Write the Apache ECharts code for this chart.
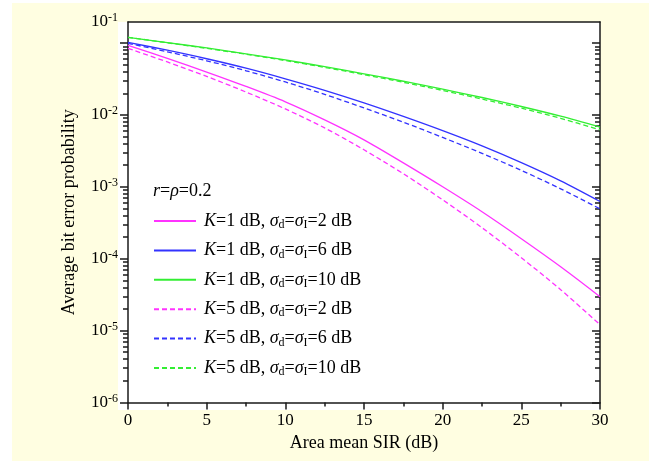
<!DOCTYPE html>
<html><head><meta charset="utf-8">
<script src="https://cdn.jsdelivr.net/npm/echarts@6/dist/echarts.min.js"></script>
<style>html,body{margin:0;padding:0;background:#fff}#c{width:649px;height:461px}</style>
</head><body><div id="c"></div>
<script>
// ---- data ----
const sir = [0, 2.5, 5, 7.5, 10, 12.5, 15, 17.5, 20, 22.5, 25, 27.5, 30];
const k1s2  = [0.0929, 0.0610, 0.0395, 0.0249, 0.0152, 0.00853, 0.00450, 0.00215, 0.00100, 0.000450, 0.000190, 0.0000774, 0.0000296];
const k1s6  = [0.1023, 0.0794, 0.0604, 0.0447, 0.0318, 0.0220, 0.0147, 0.00953, 0.00604, 0.00371, 0.00217, 0.00121, 0.000625];
const k1s10 = [0.1200, 0.1014, 0.0853, 0.0708, 0.0581, 0.0469, 0.0373, 0.0294, 0.0228, 0.01746, 0.01309, 0.00959, 0.00675];
const k5s2  = [0.0843, 0.0545, 0.0343, 0.0208, 0.0121, 0.00659, 0.00327, 0.00152, 0.000659, 0.000270, 0.000103, 0.0000371, 0.0000121];
const k5s6  = [0.0991, 0.0755, 0.0566, 0.0411, 0.0287, 0.0193, 0.0125, 0.00793, 0.00486, 0.00292, 0.00169, 0.000938, 0.000494];
const k5s10 = [0.1200, 0.1007, 0.0843, 0.0697, 0.0570, 0.0458, 0.0363, 0.0284, 0.0219, 0.0166, 0.0124, 0.00897, 0.00619];
const kVals = ['1', '1', '1', '5', '5', '5'];
const sigVals = ['2', '6', '10', '2', '6', '10'];
const yMajorTicks = [1e-6, 1e-5, 1e-4, 1e-3, 1e-2, 1e-1];
const yLabelExps = ['-6', '-5', '-4', '-3', '-2', '-1'];
const yMin = 1e-6, yMax = 0.196;

const seriesVals = [k1s2, k1s6, k1s10, k5s2, k5s6, k5s10];
const names = kVals.map((k, i) => 'K=' + k + ' dB, σd=σI=' + sigVals[i] + ' dB');
const colors = ['#ff33ff', '#3333ff', '#33ee33', '#ff33ff', '#3333ff', '#33ee33'];

const yMinorTicks = [];
for (let e = -6; e <= -1; e++) for (let m = 2; m <= 9; m++) {
  const v = m * Math.pow(10, e);
  if (v <= yMax) yMinorTicks.push(v);
}
const yLabelValues = yMajorTicks.slice(0, 5).concat([yMax]);

const FONT = 'Liberation Serif';
const AX = '#1a1a1a';
const axLine = { color: AX, width: 1.5 };

function yFormatter(v) {
  let best = 0, bd = 1e9;
  yLabelValues.forEach((t, i) => { const d = Math.abs(Math.log10(t) - Math.log10(v)); if (d < bd) { bd = d; best = i; } });
  return '10{sup|' + yLabelExps[best] + '}';
}

const yBase = { type: 'log', logBase: 10, min: yMin, max: yMax, splitLine: { show: false }, minorSplitLine: { show: false }, minorTick: { show: false } };

const chart = echarts.init(document.getElementById('c'), null, { renderer: 'canvas' });
const option = {
  backgroundColor: '#ffffff',
  animation: false,
  graphic: [
    { type: 'rect', z: -100, silent: true, shape: { x: 12, y: 3, width: 637, height: 458 }, style: { fill: '#FFFEE1' } },
    { type: 'rect', z: -99, silent: true, shape: { x: 118, y: 22, width: 482, height: 388 }, style: { fill: '#ffffff' } }
  ],
  grid: { left: 128, right: 49, top: 22, bottom: 58.5, containLabel: false },
  title: {
    text: '{i|r}={i|ρ}=0.2', left: 148, top: 177,
    textStyle: { fontFamily: FONT, fontSize: 18, fontWeight: 'normal', color: '#000',
      rich: { i: { fontFamily: FONT, fontSize: 18, fontStyle: 'italic', color: '#000' } } }
  },
  legend: {
    orient: 'vertical', left: 148, top: 206, itemWidth: 42, itemHeight: 14, itemGap: 9.4,
    data: names,
    itemStyle: { opacity: 0, borderWidth: 0 },
    formatter: function (name) {
      const i = names.indexOf(name);
      return '{i|K}=' + kVals[i] + ' dB, {i|σ}{sub|d}={i|σ}{sub|I}=' + sigVals[i] + ' dB';
    },
    textStyle: {
      fontFamily: FONT, fontSize: 18, color: '#000', lineHeight: 20, padding: [0, 0, 0, 3],
      rich: {
        i: { fontFamily: FONT, fontSize: 18, fontStyle: 'italic', color: '#000', lineHeight: 20 },
        sub: { fontFamily: FONT, fontSize: 12, color: '#000', lineHeight: 12, verticalAlign: 'bottom' }
      }
    }
  },
  xAxis: [{
    type: 'value', position: 'bottom', min: 0, max: 30, interval: 5,
    axisLine: { show: true, onZero: false, lineStyle: axLine },
    axisTick: { show: true, inside: false, length: 7, lineStyle: axLine },
    minorTick: { show: true, splitNumber: 2, length: 4, lineStyle: axLine },
    axisLabel: { fontFamily: FONT, fontSize: 17, color: '#000', margin: 10 },
    splitLine: { show: false }, minorSplitLine: { show: false },
    name: 'Area mean SIR (dB)', nameLocation: 'middle', nameGap: 30,
    nameTextStyle: { fontFamily: FONT, fontSize: 18, color: '#000' }
  }, {
    type: 'value', position: 'top', min: 0, max: 30, interval: 5,
    axisLine: { show: true, onZero: false, lineStyle: axLine },
    axisTick: { show: false }, axisLabel: { show: false }, splitLine: { show: false }
  }],
  yAxis: [
    Object.assign({}, yBase, {
      position: 'left',
      axisLine: { show: true, onZero: false, lineStyle: axLine },
      axisTick: { show: true, inside: false, length: 8, customValues: yMajorTicks, lineStyle: axLine },
      axisLabel: { show: true, customValues: yLabelValues, formatter: yFormatter, margin: 10,
        fontFamily: FONT, fontSize: 17, color: '#000', lineHeight: 20,
        rich: { sup: { fontFamily: FONT, fontSize: 12, color: '#000', lineHeight: 12, verticalAlign: 'top' } } },
      name: 'Average bit error probability', nameLocation: 'middle', nameGap: 50,
      nameTextStyle: { fontFamily: FONT, fontSize: 18, color: '#000' }
    }),
    Object.assign({}, yBase, {
      position: 'left',
      axisLine: { show: false, onZero: false },
      axisTick: { show: true, inside: false, length: 5, customValues: yMinorTicks, lineStyle: axLine },
      axisLabel: { show: false }
    }),
    Object.assign({}, yBase, {
      position: 'right',
      axisLine: { show: true, onZero: false, lineStyle: axLine },
      axisTick: { show: true, inside: true, length: 8, customValues: yMajorTicks, lineStyle: axLine },
      axisLabel: { show: false }
    }),
    Object.assign({}, yBase, {
      position: 'right',
      axisLine: { show: false, onZero: false },
      axisTick: { show: true, inside: true, length: 5, customValues: yMinorTicks, lineStyle: axLine },
      axisLabel: { show: false }
    })
  ],
  series: names.map((n, i) => ({
    name: n, type: 'line', xAxisIndex: 0, yAxisIndex: 0,
    data: sir.map((x, j) => [x, seriesVals[i][j]]),
    symbol: 'none', smooth: 0.3,
    lineStyle: { color: colors[i], width: 1.3, type: i >= 3 ? [5, 3] : 'solid' },
    itemStyle: { color: colors[i] }
  }))
};
chart.setOption(option);
</script>
</body></html>
